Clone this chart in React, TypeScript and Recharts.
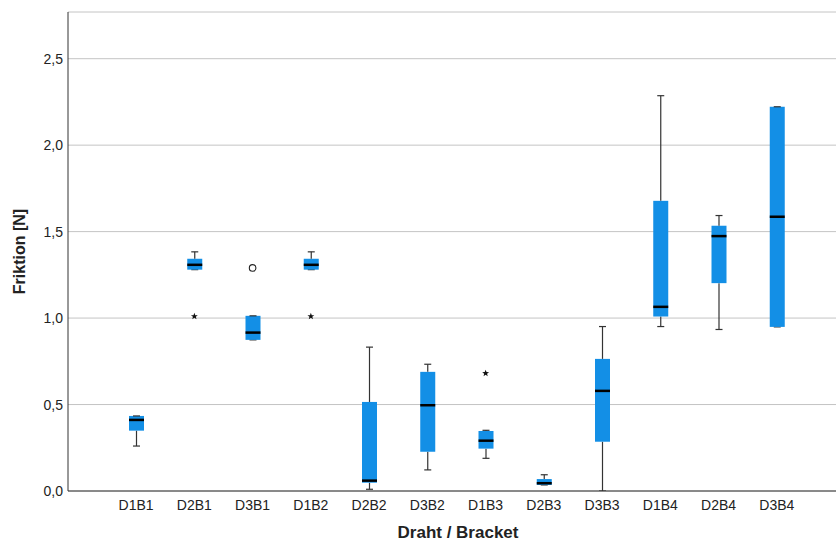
import React from 'react';
import { ComposedChart, Bar, Scatter, XAxis, YAxis, CartesianGrid, Label } from 'recharts';

const categories = ['D1B1', 'D2B1', 'D3B1', 'D1B2', 'D2B2', 'D3B2', 'D1B3', 'D2B3', 'D3B3', 'D1B4', 'D2B4', 'D3B4'];
const minVals = [0.26, 1.28, 0.874, 1.28, 0.01, 0.122, 0.189, 0.035, 0.0, 0.951, 0.934, 0.949];
const q1Vals = [0.349, 1.28, 0.874, 1.28, 0.048, 0.227, 0.245, 0.035, 0.285, 1.009, 1.202, 0.949];
const medianVals = [0.411, 1.308, 0.916, 1.308, 0.06, 0.496, 0.291, 0.045, 0.579, 1.065, 1.474, 1.586];
const q3Vals = [0.434, 1.343, 1.013, 1.343, 0.515, 0.689, 0.347, 0.069, 0.764, 1.678, 1.534, 2.222];
const maxVals = [0.434, 1.383, 1.013, 1.383, 0.832, 0.733, 0.351, 0.094, 0.951, 2.286, 1.593, 2.222];
const starOutliers: (number | null)[] = [null, 1.01, null, 1.01, null, null, 0.681, null, null, null, null, null];
const circleOutliers: (number | null)[] = [null, null, 1.29, null, null, null, null, null, null, null, null, null];
const yTicks = [0, 0.5, 1.0, 1.5, 2.0, 2.5];

const data = categories.map((name, i) => ({
  name,
  base: minVals[i],
  wLow: q1Vals[i] - minVals[i],
  bLow: medianVals[i] - q1Vals[i],
  bHigh: q3Vals[i] - medianVals[i],
  wHigh: maxVals[i] - q3Vals[i],
  star: starOutliers[i],
  circ: circleOutliers[i],
}));

const BOX = '#138fe6';
const LINE = '#333333';
const FONT = '"Liberation Sans", Arial, sans-serif';
const CAP = 3.5;

const Empty = () => <g />;

const LowWhisker = (p: any) => {
  const cx = p.x + p.width / 2;
  const yb = p.y + p.height;
  return (
    <g>
      <line x1={cx} x2={cx} y1={p.y} y2={yb} stroke={LINE} strokeWidth={1.2} />
      <line x1={cx - CAP} x2={cx + CAP} y1={yb} y2={yb} stroke={LINE} strokeWidth={1.2} />
    </g>
  );
};

const HighWhisker = (p: any) => {
  const cx = p.x + p.width / 2;
  const yb = p.y + p.height;
  return (
    <g>
      <line x1={cx} x2={cx} y1={p.y} y2={yb} stroke={LINE} strokeWidth={1.2} />
      <line x1={cx - CAP} x2={cx + CAP} y1={p.y} y2={p.y} stroke={LINE} strokeWidth={1.2} />
    </g>
  );
};

const BoxLow = (p: any) => (
  <rect x={p.x} y={p.y} width={p.width} height={Math.max(p.height, 0)} fill={BOX} />
);

const BoxHigh = (p: any) => (
  <g>
    <rect x={p.x} y={p.y} width={p.width} height={Math.max(p.height, 0)} fill={BOX} />
    <line x1={p.x} x2={p.x + p.width} y1={p.y + p.height} y2={p.y + p.height} stroke="#000" strokeWidth={2.5} />
  </g>
);

const StarShape = (p: any) => {
  if (p.payload == null || p.payload.star == null || p.cx == null || p.cy == null) return <g />;
  const pts: string[] = [];
  for (let k = 0; k < 10; k++) {
    const r = k % 2 === 0 ? 3.6 : 1.5;
    const a = -Math.PI / 2 + (k * Math.PI) / 5;
    pts.push(`${p.cx + r * Math.cos(a)},${p.cy + r * Math.sin(a)}`);
  }
  return <polygon points={pts.join(' ')} fill="#111" />;
};

const CircleShape = (p: any) => {
  if (p.payload == null || p.payload.circ == null || p.cx == null || p.cy == null) return <g />;
  return <circle cx={p.cx} cy={p.cy} r={3.3} fill="#fff" stroke="#222" strokeWidth={1.1} />;
};

const YTitle = (props: any) => {
  const vb = props.viewBox;
  const x = 19;
  const y = vb.y + vb.height / 2;
  return (
    <text x={x} y={y} transform={`rotate(-90, ${x}, ${y})`} textAnchor="middle" dominantBaseline="central"
      fontFamily={FONT} fontWeight="bold" fontSize={16} fill="#222">
      Friktion [N]
    </text>
  );
};

const XTitle = (props: any) => {
  const vb = props.viewBox;
  return (
    <text x={vb.x + vb.width / 2 + 6} y={538} textAnchor="middle"
      fontFamily={FONT} fontWeight="bold" fontSize={17} fill="#222">
      Draht / Bracket
    </text>
  );
};

const fmt = (v: number) => v.toFixed(1).replace('.', ',');

export default function App() {
  return (
    <div style={{ position: 'absolute', left: 0, top: 0, width: 836, height: 545, background: '#fff' }}>
      <ComposedChart width={836} height={545} data={data} margin={{ top: 12, right: 0, bottom: 0, left: 0 }} barSize={15}>
        <CartesianGrid vertical={false} stroke="#c4c4c4" strokeWidth={1} />
        <XAxis dataKey="name" type="category" height={54} padding={{ left: 39, right: 30 }}
          tickLine={false} tickSize={0} tickMargin={9} axisLine={{ stroke: LINE, strokeWidth: 1 }}
          tick={{ fontFamily: FONT, fontSize: 14, fill: '#222' }} interval={0}>
          <Label content={<XTitle />} />
        </XAxis>
        <YAxis type="number" domain={[0, 2.77]} ticks={yTicks} width={68} tickFormatter={fmt}
          tickLine={false} tickSize={0} tickMargin={5} axisLine={{ stroke: LINE, strokeWidth: 1 }}
          tick={{ fontFamily: FONT, fontSize: 14, fill: '#222' }} allowDataOverflow>
          <Label content={<YTitle />} />
        </YAxis>
        <Bar dataKey="base" stackId="b" shape={<Empty />} isAnimationActive={false} />
        <Bar dataKey="wLow" stackId="b" shape={<LowWhisker />} isAnimationActive={false} />
        <Bar dataKey="bLow" stackId="b" shape={<BoxLow />} isAnimationActive={false} />
        <Bar dataKey="bHigh" stackId="b" shape={<BoxHigh />} isAnimationActive={false} />
        <Bar dataKey="wHigh" stackId="b" shape={<HighWhisker />} isAnimationActive={false} />
        <Scatter dataKey="star" shape={<StarShape />} isAnimationActive={false} />
        <Scatter dataKey="circ" shape={<CircleShape />} isAnimationActive={false} />
      </ComposedChart>
    </div>
  );
}
